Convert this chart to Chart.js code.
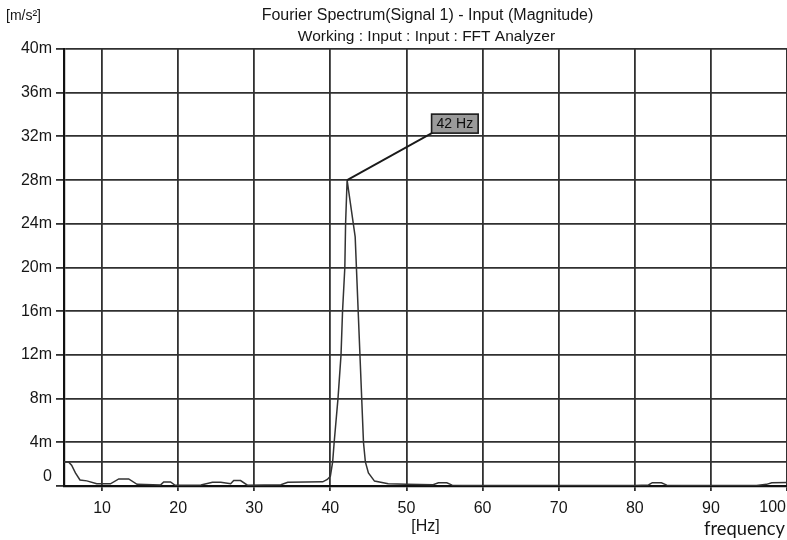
<!DOCTYPE html>
<html><head><meta charset="utf-8">
<script src="https://cdn.jsdelivr.net/npm/chart.js@4.4.1/dist/chart.umd.min.js"></script>
<style>html,body{margin:0;padding:0;background:#fff;}#wrap{width:787px;height:540px;position:relative;}canvas{display:block;}</style>
</head><body><div id="wrap"><canvas id="c" width="787" height="540"></canvas></div>
<script>
// ---- data ----
const freqHz = [5.0, 5.6, 6.0, 6.5, 7.1, 8.0, 9.3, 11.1, 12.2, 13.5, 14.6, 17.7, 18.1, 19.0, 19.6, 23.0, 24.5, 25.6, 26.9, 27.3, 28.2, 29.1, 33.5, 34.4, 39.0, 39.6, 40.0, 40.3, 40.5, 41.0, 41.4, 41.6, 41.9, 42.0, 42.2, 43.26, 44.35, 44.6, 45.0, 45.8, 47.6, 50.0, 53.5, 54.2, 55.3, 56.0, 60.0, 70.0, 80.0, 81.8, 82.3, 83.5, 84.2, 90.0, 96.0, 97.3, 98.0, 100.0];
const magnitude = [2.2, 2.2, 1.9, 1.2, 0.55, 0.47, 0.2, 0.2, 0.65, 0.65, 0.15, 0.1, 0.37, 0.37, 0.07, 0.1, 0.35, 0.35, 0.2, 0.5, 0.5, 0.07, 0.12, 0.34, 0.38, 0.6, 0.9, 2.2, 4, 8, 12, 16, 20, 24, 28, 22.8, 4, 2.2, 1.2, 0.45, 0.2, 0.15, 0.12, 0.3, 0.3, 0.08, 0.05, 0.05, 0.05, 0.1, 0.3, 0.3, 0.08, 0.05, 0.05, 0.15, 0.3, 0.32];
const refLevel = [2.2, 2.2];
const refFreq = [5, 100];
const xTickValues = [10, 20, 30, 40, 50, 60, 70, 80, 90, 100];
const yTickValues = [0, 4, 8, 12, 16, 20, 24, 28, 32, 36, 40];
const peakFreq = 42.2, peakMag = 28, peakLabel = '42 Hz';
const titleLines = ['Fourier Spectrum(Signal 1) - Input (Magnitude)', 'Working : Input : Input : FFT Analyzer'];
const yUnit = '[m/s\u00B2]', xUnit = '[Hz]', xName = 'frequency';

// ---- styles ----
const FONT = '"Liberation Sans", Arial, sans-serif';
const TXT = '#161616';
const GRID = '#303030';
const labelAnchor = {x: 53.3, y: 32.3}; // data coords of the label box bottom-left

const decor = {
  id: 'decor',
  afterDraw(chart) {
    const ctx = chart.ctx, xs = chart.scales.x, ys = chart.scales.y, ca = chart.chartArea;
    ctx.save();
    ctx.fillStyle = TXT;
    ctx.textBaseline = 'middle';
    // titles
    ctx.textAlign = 'center';
    const cx = (ca.left + ca.right) / 2;
    ctx.font = '16px ' + FONT;
    ctx.fillText(titleLines[0], cx + 2, 16);
    ctx.font = '15.5px ' + FONT;
    ctx.fillText(titleLines[1], cx + 1, 37);
    // unit top-left
    ctx.textAlign = 'left';
    ctx.font = '14px ' + FONT;
    ctx.fillText(yUnit, 6, 16);
    // last x tick label, kept inside the canvas
    ctx.textAlign = 'right';
    ctx.font = '16px ' + FONT;
    ctx.fillText(String(xTickValues[xTickValues.length - 1]), chart.width - 1, xs.top + 5 + 8 + 9);
    // frequency label
    ctx.font = '18px Lato, "Open Sans", sans-serif';
    const w = ctx.measureText(xName).width;
    const sz = 18 * 81 / w;
    ctx.font = sz.toFixed(2) + 'px Lato, "Open Sans", sans-serif';
    ctx.fillText(xName, chart.width - 2, 529);
    // peak annotation
    const px = xs.getPixelForValue(peakFreq), py = ys.getPixelForValue(peakMag);
    const bx = xs.getPixelForValue(labelAnchor.x), by = ys.getPixelForValue(labelAnchor.y);
    ctx.strokeStyle = '#1a1a1a';
    ctx.lineWidth = 1.8;
    ctx.beginPath(); ctx.moveTo(px, py); ctx.lineTo(bx + 2, by - 1); ctx.stroke();
    ctx.font = '14px ' + FONT;
    const tw = ctx.measureText(peakLabel).width;
    const bw = tw + 10, bh = 19;
    ctx.fillStyle = '#9a9a9a';
    ctx.fillRect(bx, by - bh, bw, bh);
    ctx.lineWidth = 1.6;
    ctx.strokeRect(bx, by - bh, bw, bh);
    ctx.fillStyle = '#0d0d0d';
    ctx.textAlign = 'center';
    ctx.fillText(peakLabel, bx + bw / 2, by - bh / 2 + 0.5);
    ctx.restore();
  }
};

Chart.defaults.font.family = FONT;
Chart.defaults.color = TXT;

new Chart(document.getElementById('c'), {
  type: 'line',
  data: {
    datasets: [
      {
        label: 'Magnitude',
        data: freqHz.map((f, i) => ({x: f, y: magnitude[i]})),
        borderColor: '#333333', borderWidth: 1.5, pointRadius: 0, tension: 0, fill: false
      },
      {
        label: 'Level',
        data: refFreq.map((f, i) => ({x: f, y: refLevel[i]})),
        borderColor: GRID, borderWidth: 1.8, pointRadius: 0, tension: 0, fill: false
      }
    ]
  },
  options: {
    responsive: false,
    animation: false,
    devicePixelRatio: 1,
    layout: {padding: {top: 49, left: 0, right: 0, bottom: 0}},
    plugins: {legend: {display: false}, tooltip: {enabled: false}, title: {display: false}},
    scales: {
      x: {
        type: 'linear', min: 5, max: 100,
        afterBuildTicks: s => { s.ticks = xTickValues.map(v => ({value: v})); },
        afterFit: s => { s.height = 54; s.paddingLeft = 0; s.paddingRight = 0; },
        ticks: {
          callback: v => (v === 100 ? '' : String(v)),
          font: {size: 16}, color: TXT, padding: 8, maxRotation: 0, autoSkip: false
        },
        grid: {color: GRID, lineWidth: 1.8, tickLength: 5},
        border: {display: true, color: '#111', width: 2.2},
        title: {display: true, text: xUnit, font: {size: 16}, color: TXT, padding: {top: 0, bottom: 4}}
      },
      y: {
        min: 0, max: 40,
        afterBuildTicks: s => { s.ticks = yTickValues.map(v => ({value: v})); },
        afterFit: s => { s.width = 64; s.paddingTop = 0; s.paddingBottom = 0; },
        ticks: {
          callback: v => (v === 0 ? ['0', ''] : v + 'm'),
          font: {size: 16}, color: TXT, padding: 4, autoSkip: false
        },
        grid: {color: GRID, lineWidth: 1.8, tickLength: 8},
        border: {display: true, color: '#111', width: 2.2}
      }
    }
  },
  plugins: [decor]
});
</script>
</body></html>
